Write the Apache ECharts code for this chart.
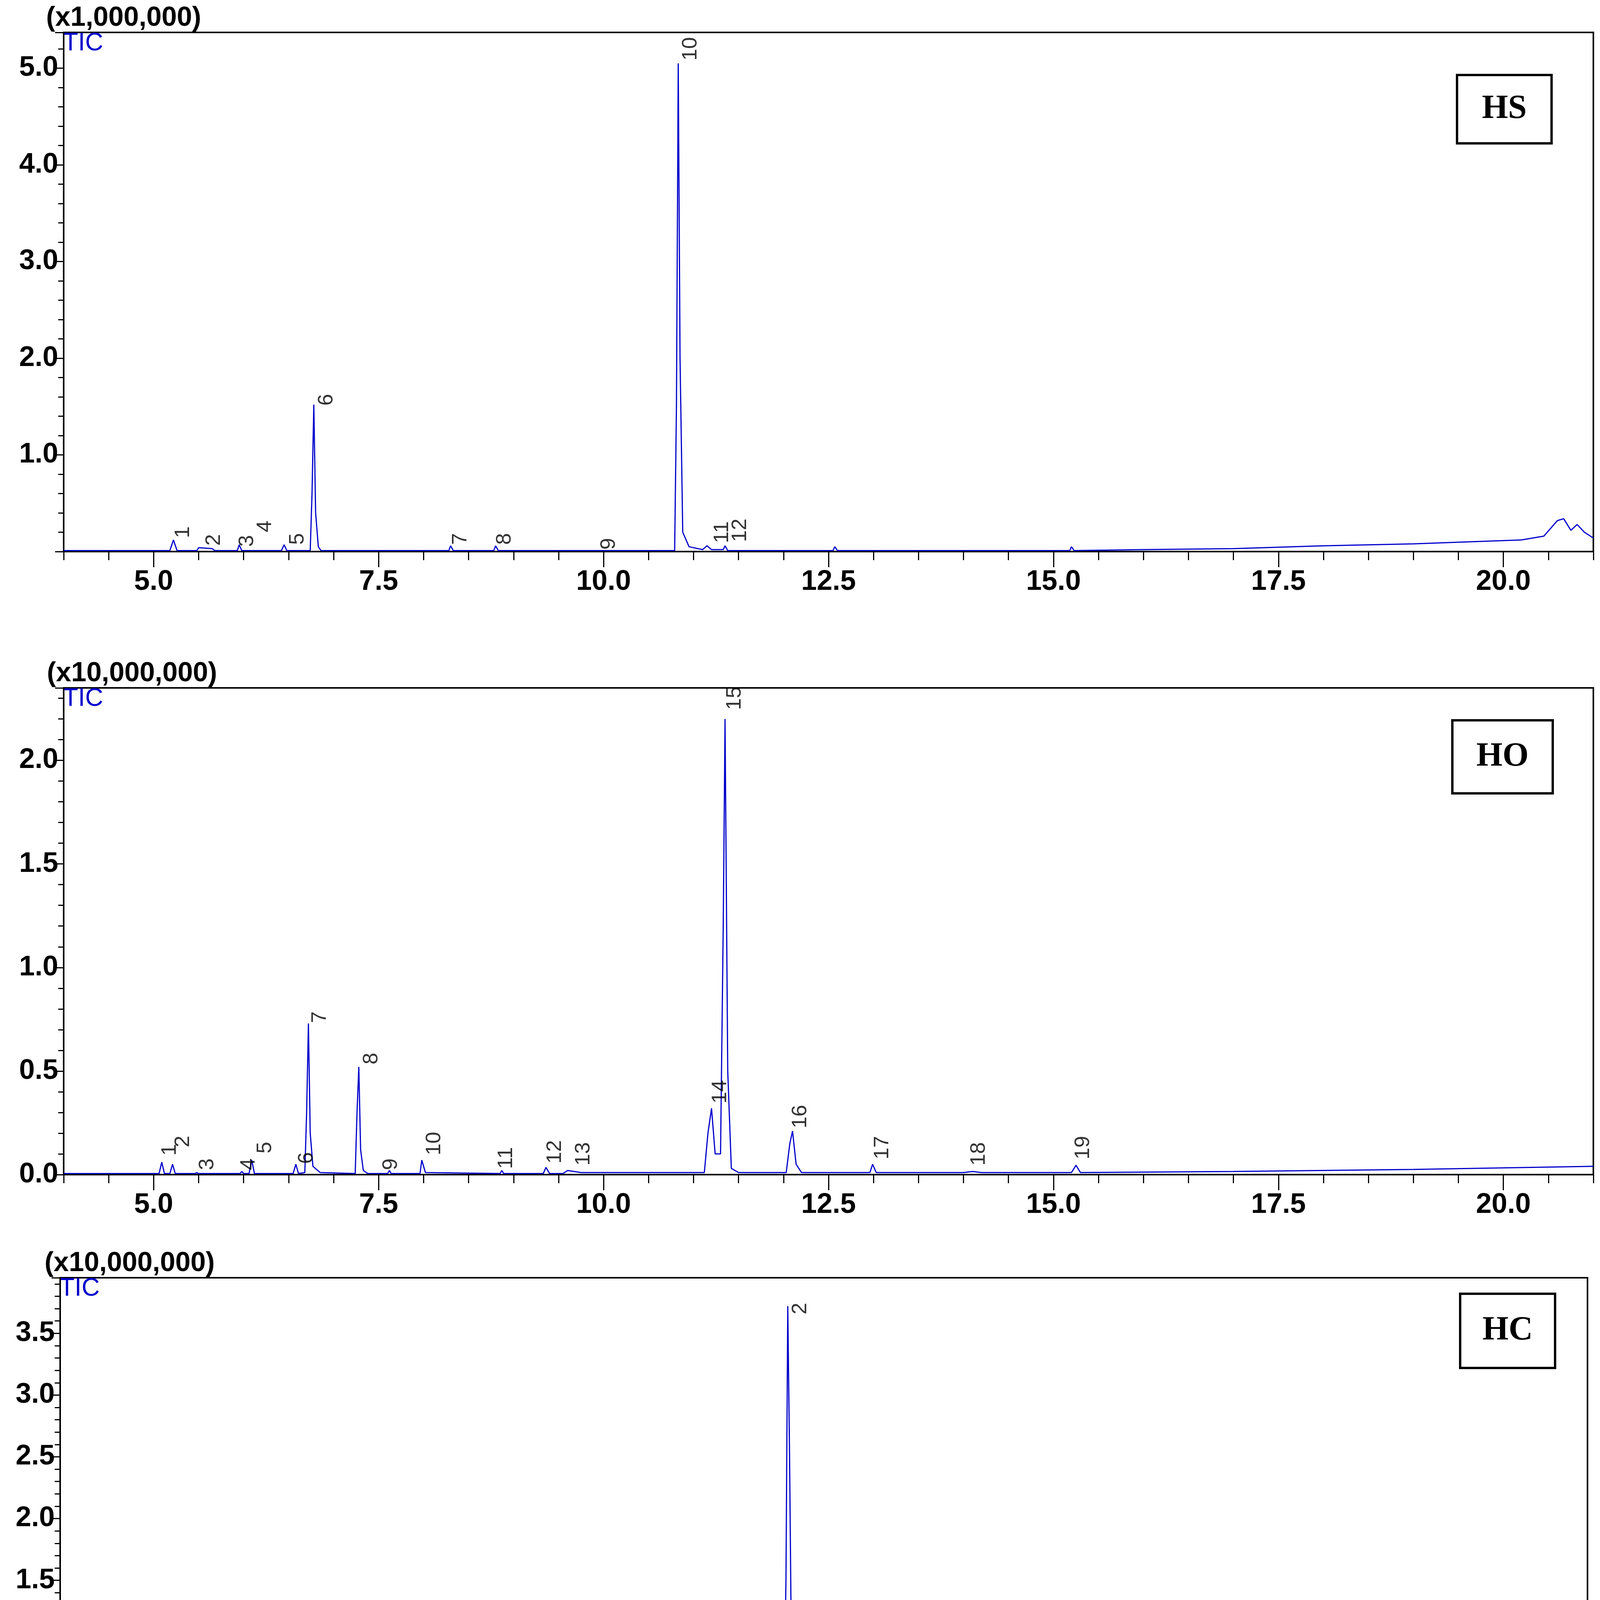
<!DOCTYPE html>
<html>
<head>
<meta charset="utf-8">
<script src="https://cdn.jsdelivr.net/npm/echarts@6/dist/echarts.min.js"></script>
<style>html,body{margin:0;padding:0;background:#fff}#chart{width:4098px;height:4643px}</style>
</head>
<body>
<div id="chart"></div>
<script>
// chromatogram traces: [retention time, intensity]
var hsTrace = [[4.0,0.01],[5.18,0.01],[5.22,0.12],[5.26,0.01],[5.48,0.01],[5.5,0.04],[5.65,0.03],[5.68,0.01],[5.93,0.01],[5.95,0.07],[5.98,0.01],[6.42,0.01],[6.45,0.07],[6.48,0.01],[6.74,0.01],[6.76,0.6],[6.78,1.52],[6.8,0.4],[6.83,0.05],[6.86,0.01],[8.28,0.01],[8.3,0.06],[8.33,0.01],[8.78,0.01],[8.8,0.06],[8.83,0.01],[10.79,0.01],[10.81,1.5],[10.83,5.05],[10.85,2.0],[10.88,0.2],[10.95,0.05],[11.1,0.02],[11.15,0.06],[11.2,0.02],[11.33,0.02],[11.35,0.06],[11.38,0.01],[12.55,0.01],[12.57,0.05],[12.6,0.01],[15.18,0.01],[15.2,0.05],[15.23,0.01],[16.0,0.02],[17.0,0.03],[18.0,0.06],[19.0,0.08],[19.6,0.1],[20.2,0.12],[20.45,0.16],[20.6,0.32],[20.67,0.34],[20.75,0.22],[20.82,0.28],[20.9,0.2],[21.0,0.14]];
var hoTrace = [[4.0,0.005],[5.06,0.005],[5.09,0.06],[5.12,0.005],[5.18,0.005],[5.21,0.05],[5.24,0.005],[5.46,0.005],[5.48,0.01],[5.5,0.005],[5.96,0.005],[5.98,0.015],[6.0,0.005],[6.06,0.005],[6.09,0.07],[6.12,0.005],[6.55,0.005],[6.58,0.05],[6.61,0.005],[6.68,0.01],[6.7,0.3],[6.72,0.73],[6.74,0.2],[6.77,0.04],[6.85,0.01],[7.24,0.005],[7.26,0.3],[7.28,0.52],[7.3,0.12],[7.33,0.02],[7.38,0.005],[7.6,0.005],[7.62,0.02],[7.64,0.005],[7.96,0.005],[7.98,0.07],[8.02,0.01],[8.85,0.005],[8.87,0.02],[8.89,0.005],[9.33,0.005],[9.36,0.035],[9.4,0.005],[9.55,0.005],[9.6,0.02],[9.75,0.01],[11.12,0.01],[11.16,0.2],[11.2,0.32],[11.24,0.1],[11.3,0.1],[11.33,1.2],[11.35,2.2],[11.38,0.5],[11.42,0.03],[11.5,0.01],[12.03,0.01],[12.07,0.15],[12.1,0.21],[12.14,0.05],[12.2,0.01],[12.96,0.01],[12.99,0.05],[13.03,0.01],[14.0,0.01],[14.1,0.015],[14.2,0.01],[15.2,0.01],[15.25,0.045],[15.3,0.01],[17.0,0.015],[19.0,0.025],[21.0,0.04]];
var hcTrace = [[4.0,0.005],[6.78,0.005],[6.8,0.015],[6.82,0.005],[12.02,0.005],[12.05,1.5],[12.07,3.72],[12.09,2.5],[12.12,0.2],[12.16,0.02],[12.24,0.005],[12.26,0.08],[12.28,0.005],[12.92,0.01],[12.95,0.55],[12.98,0.3],[13.02,0.03],[13.42,0.01],[13.45,0.13],[13.49,0.02],[14.45,0.01],[14.5,0.025],[14.55,0.01],[15.18,0.01],[15.22,0.13],[15.27,0.02],[15.55,0.015],[15.6,0.035],[15.65,0.015],[17.5,0.02],[19.3,0.03],[20.0,0.02],[20.5,0.04],[20.94,0.04]];

// peak number labels: [time, intensity, text]
var hsPeaks = [[5.33,0.2,'1'],[5.67,0.12,'2'],[6.04,0.11,'3'],[6.24,0.26,'4'],[6.6,0.13,'5'],[6.92,1.57,'6'],[8.41,0.13,'7'],[8.9,0.13,'8'],[10.06,0.08,'9'],[10.97,5.2,'10'],[11.32,0.2,'11'],[11.52,0.22,'12']];
var hoPeaks = [[5.18,0.12,'1'],[5.33,0.16,'2'],[5.6,0.05,'3'],[6.06,0.05,'4'],[6.24,0.13,'5'],[6.7,0.08,'6'],[6.85,0.76,'7'],[7.42,0.56,'8'],[7.64,0.05,'9'],[8.12,0.15,'10'],[8.92,0.08,'11'],[9.46,0.11,'12'],[9.78,0.1,'13'],[11.3,0.4,'14'],[11.46,2.3,'15'],[12.19,0.28,'16'],[13.1,0.13,'17'],[14.17,0.1,'18'],[15.33,0.13,'19']];
var hcPeaks = [[6.93,0.07,'1'],[12.21,3.7,'2'],[12.42,0.07,'3'],[13.1,0.6,'4'],[13.59,0.2,'5'],[14.47,0.08,'6'],[15.33,0.19,'7']];

var xMajor = [5, 7.5, 10, 12.5, 15, 17.5, 20];
var panelNames = ['HS', 'HO', 'HC'];
var unitLabels = ['(x1,000,000)', '(x10,000,000)', '(x10,000,000)'];

var chart = echarts.init(document.getElementById('chart'));
var font = 'Liberation Sans';
var blue = '#0000cc';

var grids = [
  {left: 163, right: 19, top: 83, height: 1329, yMax: 5.37, yInt: 1.0, xMax: 21.0},
  {left: 163, right: 19, top: 1761, height: 1246, yMax: 2.35, yInt: 0.5, xMax: 21.0},
  {left: 154, right: 34, top: 3271, height: 1249, yMax: 3.95, yInt: 0.5, xMax: 20.94}
];
var traces = [hsTrace, hoTrace, hcTrace];
var peaks = [hsPeaks, hoPeaks, hcPeaks];
var boxes = [[3730,192,242,175],[3718,1844,257,187],[3738,3312,243,190]];
var unitPos = [[118,12],[120,1690],[114,3200]];

var option = {animation: false, grid: [], xAxis: [], yAxis: [], series: [], graphic: []};
grids.forEach(function(g, i){
  option.grid.push({left: g.left, right: g.right, top: g.top, height: g.height, show: true, borderColor: '#000', borderWidth: 4});
  // main x axis: long ticks + labels
  option.xAxis.push({type: 'value', gridIndex: i, min: 4, max: g.xMax, interval: 0.5,
    axisLine: {lineStyle: {color: '#000', width: 4}}, splitLine: {show: false},
    axisTick: {length: 40, lineStyle: {color: '#000', width: 3}, customValues: xMajor},
    axisLabel: {customValues: xMajor, fontFamily: font, fontWeight: 'bold', fontSize: 72, color: '#000', margin: 42,
      formatter: function(v){ return v.toFixed(1); }}});
  // minor x ticks
  option.xAxis.push({type: 'value', gridIndex: i, min: 4, max: g.xMax, interval: 0.5, position: 'bottom',
    axisLine: {show: false}, splitLine: {show: false}, axisLabel: {show: false},
    axisTick: {length: 22, lineStyle: {color: '#000', width: 3}}});
  option.yAxis.push({type: 'value', gridIndex: i, min: 0, max: g.yMax, interval: g.yInt,
    axisLine: {show: true, lineStyle: {color: '#000', width: 4}}, splitLine: {show: false},
    axisTick: {show: true, length: 22, lineStyle: {color: '#000', width: 3}},
    minorTick: {show: true, splitNumber: 5, length: 14, lineStyle: {color: '#000', width: 3}},
    axisLabel: {showMinLabel: i > 0, showMaxLabel: false, fontFamily: font, fontWeight: 'bold', fontSize: 72, color: '#000', margin: 14,
      formatter: function(v){ return v.toFixed(1); }}});
  option.series.push({type: 'line', xAxisIndex: i * 2, yAxisIndex: i, data: traces[i], showSymbol: false,
    lineStyle: {color: blue, width: 3}, z: 3});
  option.series.push({type: 'scatter', xAxisIndex: i * 2, yAxisIndex: i, symbolSize: 0,
    data: peaks[i].map(function(p){ return [p[0], p[1], p[2]]; }),
    label: {show: true, position: 'inside', rotate: 90, fontFamily: font, fontSize: 54, color: '#000',
      formatter: function(p){ return p.data[2]; }}, z: 4});
  option.graphic.push({type: 'text', left: unitPos[i][0], top: unitPos[i][1],
    style: {text: unitLabels[i], font: 'bold 70px "Liberation Sans"', fill: '#000'}});
  option.graphic.push({type: 'text', left: g.left - 2, top: g.top - 4,
    style: {text: 'TIC', font: '64px "Liberation Sans"', fill: blue}});
  var b = boxes[i];
  option.graphic.push({type: 'rect', shape: {x: b[0], y: b[1], width: b[2], height: b[3]},
    style: {fill: '#fff', stroke: '#000', lineWidth: 6}, z: 10});
  option.graphic.push({type: 'text', x: b[0] + b[2] / 2, y: b[1] + b[3] / 2, z: 11,
    style: {text: panelNames[i], font: 'bold 86px "Liberation Serif"', fill: '#000', align: 'center', verticalAlign: 'middle'}});
});
chart.setOption(option);
</script>
</body>
</html>
